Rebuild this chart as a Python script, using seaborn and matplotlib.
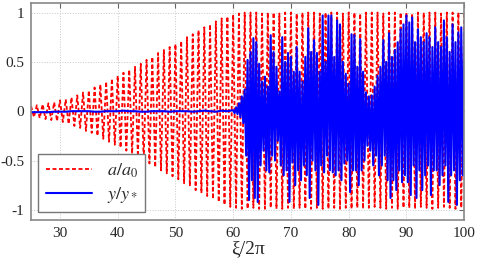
import numpy as np
import pandas as pd
import matplotlib
matplotlib.use('Agg')
import matplotlib.pyplot as plt
import seaborn as sns

# red envelope peaks at integer xi/2pi (25..100) and troughs at half-integers (25.5..99.5)
red_peak = [0.05, 0.06, 0.07, 0.08, 0.09,
            0.11, 0.12, 0.14, 0.16, 0.19, 0.21, 0.24, 0.27, 0.30, 0.33,
            0.36, 0.39, 0.42, 0.45, 0.48, 0.52, 0.55, 0.59, 0.62, 0.65,
            0.68, 0.71, 0.75, 0.78, 0.82, 0.85, 0.88, 0.91, 0.94, 0.96,
            0.98, 0.99, 1.0, 1.0, 1.0, 0.99, 1.0, 1.0, 0.99, 1.0,
            1.0, 0.99, 1.0, 1.0, 1.0, 0.99, 1.0, 1.0, 1.0, 0.99,
            1.0, 1.0, 0.99, 1.0, 1.0, 1.0, 0.99, 1.0, 1.0, 1.0,
            1.0, 0.99, 1.0, 1.0, 1.0, 1.0, 0.99, 1.0, 1.0, 1.0,
            1.0]
red_trough = [-0.06, -0.07, -0.08, -0.09, -0.10,
              -0.11, -0.13, -0.15, -0.17, -0.20, -0.22, -0.25, -0.28, -0.31, -0.34,
              -0.37, -0.40, -0.43, -0.46, -0.50, -0.53, -0.57, -0.60, -0.63, -0.66,
              -0.69, -0.73, -0.76, -0.80, -0.83, -0.86, -0.89, -0.92, -0.95, -0.97,
              -0.98, -0.99, -0.99, -0.98, -0.99, -0.99, -0.98, -0.99, -0.99, -0.98,
              -0.99, -0.98, -0.99, -0.99, -0.98, -0.99, -0.99, -0.98, -0.99, -0.98,
              -0.99, -0.98, -0.99, -0.98, -0.97, -0.98, -0.99, -0.98, -0.99, -0.98,
              -0.98, -0.99, -0.97, -0.98, -0.99, -0.98, -0.97, -0.98, -0.99, -0.98]

# y/y* : quiet part (one value per unit, 25..59), then 4 values per unit (60..100)
blue_quiet = [-0.01, -0.01, -0.01, -0.01, -0.005, -0.005, -0.005, 0.0, 0.0, 0.0,
              0.0, -0.005, -0.005, 0.0, 0.0, 0.0, 0.005, 0.0, 0.0, -0.005,
              -0.005, 0.0, 0.0, 0.0, -0.005, 0.0, 0.0, 0.0, -0.005, 0.0,
              0.005, 0.0, -0.005, 0.005, 0.0]
blue_active = [0.01, -0.02, 0.04, -0.03,   # 60
               0.08, -0.06, 0.15, -0.12,
               0.22, -0.45, 0.52, -0.90,
               0.60, -0.70, 0.74, -0.88,
               0.70, -0.92, 0.48, -0.55,
               0.30, -0.40, 0.35, -0.60,
               0.25, -0.62, 0.77, -0.45,
               0.60, -0.50, 0.45, -0.30,
               0.20, -0.55, 0.75, -0.65,
               0.50, -0.60, 0.59, -0.92,
               0.55, -0.52, 0.40, -0.75,   # 70
               0.65, -0.60, 0.40, -0.70,
               0.30, -0.55, 0.55, -0.65,
               0.84, -0.88, 0.60, -0.50,
               0.72, -0.60, 0.59, -0.95,
               0.40, -0.55, 0.97, -0.62,
               0.50, -0.45, 0.97, -0.60,
               0.97, -0.62, 0.55, -0.65,
               0.92, -0.60, 0.88, -0.70,
               0.50, -0.53, 0.38, -0.50,
               0.28, -0.82, 0.78, -0.60,   # 80
               0.77, -0.60, 0.45, -0.75,
               0.73, -0.60, 0.40, -0.50,
               0.19, -0.35, 0.15, -0.40,
               0.16, -0.55, 0.25, -0.45,
               0.36, -0.65, 0.45, -0.55,
               0.72, -0.45, 0.50, -0.70,
               0.79, -0.88, 0.55, -0.70,
               0.62, -0.80, 0.70, -0.60,
               0.83, -0.72, 0.88, -0.65,
               0.97, -0.72, 0.90, -0.85,   # 90
               0.95, -0.55, 0.70, -0.88,
               0.83, -0.60, 0.75, -0.80,
               0.70, -0.65, 0.79, -0.55,
               0.75, -0.85, 0.65, -0.60,
               0.85, -0.60, 0.70, -0.75,
               0.65, -0.65, 0.92, -0.55,
               0.75, -0.92, 0.60, -0.65,
               0.88, -0.60, 0.70, -0.95,
               0.80, -0.70, 0.85, -0.65,
               0.80]

x_ticks = [30, 40, 50, 60, 70, 80, 90, 100]
y_ticks = [-1, -0.5, 0, 0.5, 1]
y_labels = ['-1', '-0.5', '0', '0.5', '1']

# build the tables
red_x = np.concatenate([np.arange(25, 101), np.arange(25.5, 100, 1.0)])
red_y = np.concatenate([red_peak, red_trough])
red_df = pd.DataFrame({'x': red_x, 'y': red_y}).sort_values('x')

blue_x = np.concatenate([np.arange(25, 60), np.arange(60, 100.01, 0.25)])
blue_df = pd.DataFrame({'x': blue_x, 'y': blue_quiet + blue_active})

sns.set_style('whitegrid')
plt.rcParams['font.family'] = ['Liberation Serif', 'DejaVu Serif']
plt.rcParams['mathtext.fontset'] = 'stix'

fig = plt.figure(figsize=(4.78, 2.66), dpi=100)
ax = fig.add_axes([0.065, 0.174, 0.906, 0.816])

sns.lineplot(data=red_df, x='x', y='y', ax=ax, color='#ff0000', lw=1.3,
             estimator=None, sort=True, label=r'$a/a_0$')
ax.lines[-1].set_dashes((2.2, 1.4))
sns.lineplot(data=blue_df, x='x', y='y', ax=ax, color='#0000ff', lw=1.5,
             estimator=None, sort=True, label=r'$y/y_*$')

ax.set_xlim(25, 100)
ax.set_ylim(-1.1, 1.1)
ax.set_xticks(x_ticks)
ax.set_yticks(y_ticks)
ax.set_yticklabels(y_labels)
ax.set_xlabel('ξ/2π', fontsize=14, labelpad=0)
ax.set_ylabel('')
ax.grid(True, linestyle=':', color='#c8c8c8', lw=0.7)
ax.tick_params(direction='in', length=3.5, width=0.8, color='#666666',
               top=True, right=True, labelsize=11, pad=5)
for s in ax.spines.values():
    s.set_color('#888888')
    s.set_linewidth(1.2)

leg = ax.legend(loc='lower left', fontsize=13, frameon=True, fancybox=False,
                edgecolor='#777777', framealpha=1, handlelength=2.6,
                borderaxespad=0.4, labelspacing=0.3)
leg.get_frame().set_linewidth(1.0)

fig.savefig('out.png', dpi=100)
